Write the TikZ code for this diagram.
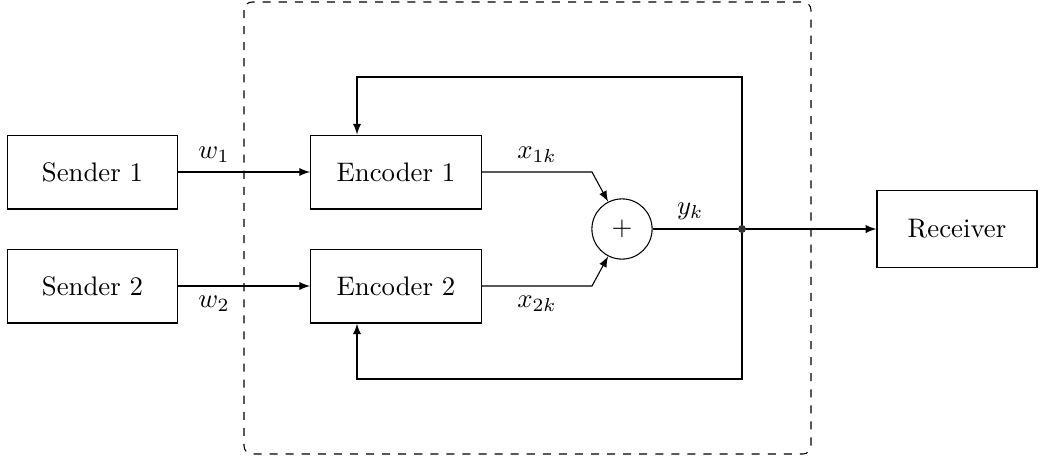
\documentclass[tikz,border=0pt]{standalone}
\usepackage{amsmath,amssymb}
\usepackage{tikz}
\usetikzlibrary{arrows}

\begin{document}
\begin{tikzpicture}[x=0.01312cm,y=-0.01312cm,>=latex]
		\tikzstyle{block}=[draw,minimum width=2.24cm,minimum height=0.97cm,inner sep=0pt]
		\tikzstyle{sum}=[draw,circle,minimum size=0.79cm,inner sep=0pt]
		\useasboundingbox (0,0) rectangle (1040,456);
		% channel
		\draw [black,dashed,rounded corners=3pt] (244,2) rectangle (811,454);
		\node [block] (send1) at (92.5,172) {Sender 1};
		\node [block] (send2) at (92.5,286) {Sender 2};
		\node [block] (enc1) at (396,172) {Encoder 1};
		\node [block] (enc2) at (396,286) {Encoder 2};
		\node [sum] (add) at (622,229) {$+$};
		\node [block,minimum width=2.1cm,minimum height=1cm] (rec) at (957,229) {Receiver};
		\coordinate (split) at (742,229);
		\coordinate (bend1) at (592,172);
		\coordinate (bend2) at (592,286);
		\coordinate (top) at (357,77);
		\coordinate (bot) at (357,379);
		% inputs
		\draw [->] (send1) -- node [above,pos=0.27] {$w_1$} (enc1);
		\draw [->] (send2) -- node [below,pos=0.27] {$w_2$} (enc2);
		\draw [->] (enc1) -- node [above] {$x_{1k}$} (bend1) -- (add.117);
		\draw [->] (enc2) -- node [below] {$x_{2k}$} (bend2) -- (add.243);
		\draw (add) -- node [above,pos=0.42] {$y_k$} (split);
		\draw [->] (split) -- (rec);
		% feedback
		\draw [->] (split) |- (top) -- (top |- enc1.north);
		\draw [->] (split) |- (bot) -- (bot |- enc2.south);
		\fill [black!80] (split) circle (4);
	\end{tikzpicture}
\end{document}
